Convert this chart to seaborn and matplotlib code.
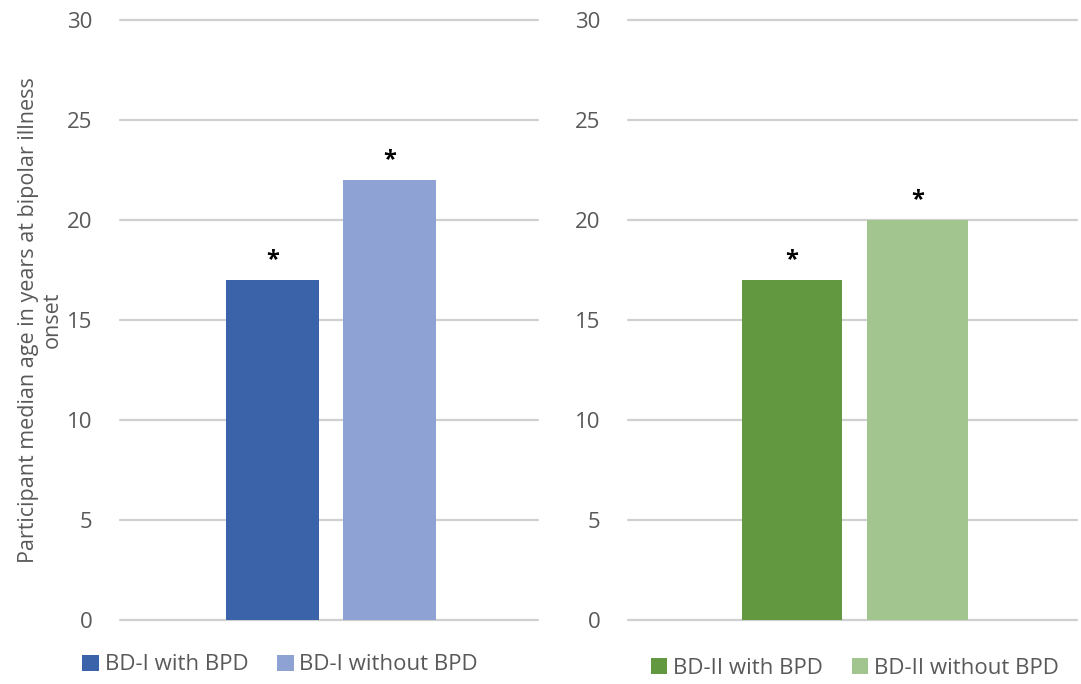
import matplotlib
matplotlib.use("Agg")
import matplotlib.pyplot as plt
from matplotlib.patches import Patch
import seaborn as sns
import pandas as pd

# Median age at bipolar illness onset, by subtype and BPD comorbidity
panels = ["BD-I", "BD-II"]
groups_bd1 = ["BD-I with BPD", "BD-I without BPD"]
groups_bd2 = ["BD-II with BPD", "BD-II without BPD"]
ages_bd1 = [17, 22]
ages_bd2 = [17, 20]
markers_bd1 = ["*", "*"]
markers_bd2 = ["*", "*"]
y_ticks = [0, 5, 10, 15, 20, 25, 30]

colors_bd1 = ["#3B63AA", "#8EA3D4"]
colors_bd2 = ["#62983F", "#A2C48E"]

sns.set_theme(style="white")
plt.rcParams["font.family"] = ["Open Sans", "DejaVu Sans"]

fig = plt.figure(figsize=(10.81, 6.84), dpi=100)
W, H = 1081, 684
ax1 = fig.add_axes([120 / W, 64 / H, 418 / W, 600 / H])
ax2 = fig.add_axes([628 / W, 64 / H, 449 / W, 600 / H])

grid_color = "#D0D0D0"
text_color = "#595959"
FS = 16


def draw_panel(ax, panel, groups, ages, marks, colors, legend_anchor):
    df = pd.DataFrame({"panel": [panel] * len(groups), "group": groups, "age": ages})
    sns.barplot(data=df, x="panel", y="age", hue="group", hue_order=groups,
                palette=colors, saturation=1, width=0.56, gap=0.2, linewidth=0,
                legend=False, ax=ax, zorder=3)
    ax.set_ylim(0, 30)
    ax.set_xlim(-0.505, 0.495)
    ax.set_yticks(y_ticks)
    ax.tick_params(axis="y", length=0, pad=20, labelsize=FS, labelcolor=text_color)
    ax.set_xticks([])
    ax.set_xlabel("")
    ax.set_ylabel("")
    ax.yaxis.grid(True, color=grid_color, linewidth=1.6)
    for gl in ax.get_ygridlines():
        gl.set_clip_on(False)
    ax.set_axisbelow(True)
    for s in ax.spines.values():
        s.set_visible(False)
    # significance markers above each bar
    bars = sorted(ax.patches, key=lambda p: p.get_x())
    for bar, m in zip(bars, marks):
        ax.text(bar.get_x() + bar.get_width() / 2, bar.get_height() + 0.7, m,
                ha="center", va="baseline", fontsize=17, color="black",
                fontweight="bold")
    handles = [Patch(facecolor=c, edgecolor="none") for c in colors]
    ax.legend(handles, groups, loc="center", bbox_to_anchor=legend_anchor,
              ncol=2, frameon=False, fontsize=FS, labelcolor=text_color,
              handlelength=0.75, handleheight=0.75, handletextpad=0.25,
              columnspacing=1.3, borderaxespad=0)


draw_panel(ax1, panels[0], groups_bd1, ages_bd1, markers_bd1, colors_bd1, (0.383, -0.075))
draw_panel(ax2, panels[1], groups_bd2, ages_bd2, markers_bd2, colors_bd2, (0.505, -0.08))

ax1.set_ylabel("Participant median age in years at bipolar illness\nonset",
               fontsize=15.5, color=text_color, linespacing=1.15)
ax1.yaxis.set_label_coords(-0.137, 0.5)

fig.savefig("out.png", dpi=100, facecolor="white")
